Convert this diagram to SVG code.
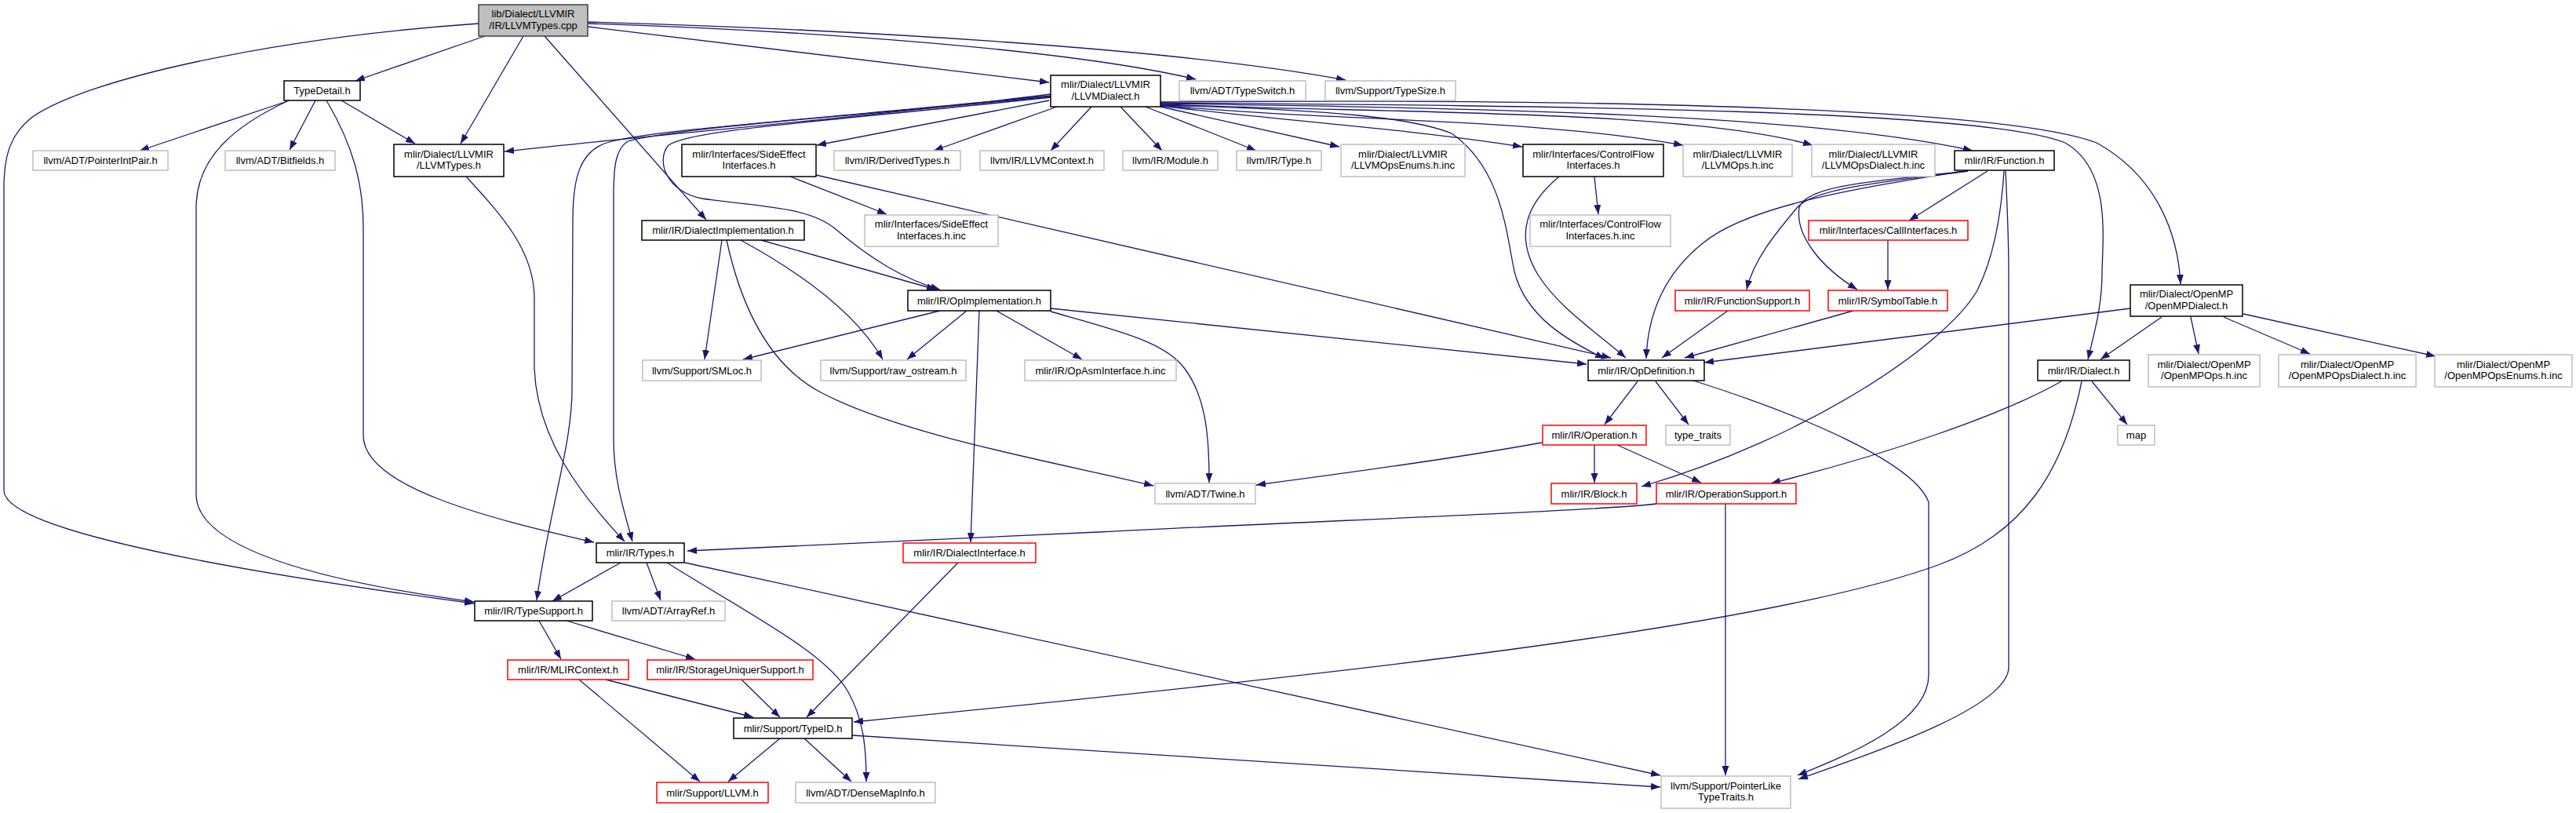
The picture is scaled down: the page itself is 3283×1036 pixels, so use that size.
<svg xmlns="http://www.w3.org/2000/svg" width="3283" height="1036" viewBox="0 0 3283 1036">
<style>
.e{fill:none;stroke:#191970;stroke-width:1.3;marker-end:url(#a)}
rect{stroke-width:1.5}
.b rect{fill:#fff;stroke:#000}
.g rect{fill:#fff;stroke:#bfbfbf}
.r rect{fill:#fff;stroke:#ff0000}
.root rect{fill:#bfbfbf;stroke:#404040}
text{font-family:"Liberation Sans",Arial,sans-serif;font-size:13px;text-anchor:middle;fill:#000}
</style>
<defs>
<marker id="a" viewBox="0 0 12 9" refX="12" refY="4.5" markerWidth="12" markerHeight="9" markerUnits="userSpaceOnUse" orient="auto"><path d="M0,0 L12,4.5 L0,9 z" fill="#191970"/></marker>
</defs>
<rect width="3283" height="1036" fill="#fff"/>
<g id="edges">
<path class="e" d="M618,46 L453,103"/>
<path class="e" d="M667,46 L587,183"/>
<path class="e" d="M694,46 L900,280"/>
<path class="e" d="M749,34 L1337,105"/>
<path class="e" d="M749,30 C1000,38 1350,60 1524,101"/>
<path class="e" d="M749,28 C1100,38 1500,62 1715,102"/>
<path class="e" d="M610,30 C350,48 110,100 40,150 C15,170 5,195 5,240 L5,625 C5,680 350,735 604,769"/>
<path class="e" d="M369,128 L178,192"/>
<path class="e" d="M402,128 L369,191"/>
<path class="e" d="M435,128 L529,183"/>
<path class="e" d="M366,129 C300,160 250,200 250,265 L250,630 C250,705 440,745 604,767"/>
<path class="e" d="M416,128 C450,185 463,235 463,290 L463,555 C463,620 620,660 757,691"/>
<path class="e" d="M594,225 C640,275 681,320 681,380 L681,470 C685,560 740,630 796,690"/>
<path class="e" d="M1339,120 C1100,150 850,170 643,193"/>
<path class="e" d="M1339,122 C1050,150 850,165 800,180 C785,190 782,210 782,250 L782,560 C782,610 795,650 806,690"/>
<path class="e" d="M1339,123 C1050,152 820,165 770,183 C740,195 730,225 730,280 L729,500 C728,570 700,650 684,765"/>
<path class="e" d="M1339,124 C1050,155 880,165 852,185 C835,205 850,245 895,253 C960,263 1030,262 1065,292 C1110,330 1150,355 1198,369"/>
<path class="e" d="M1337,128 L1041,185"/>
<path class="e" d="M1347,136 L1190,192"/>
<path class="e" d="M1391,136 L1339,192"/>
<path class="e" d="M1428,136 L1481,192"/>
<path class="e" d="M1460,136 L1601,192"/>
<path class="e" d="M1479,136 L1707,187"/>
<path class="e" d="M1479,135 C1650,155 1800,165 1940,187"/>
<path class="e" d="M1479,134 C1700,155 1950,150 2145,185"/>
<path class="e" d="M1479,133 C1800,145 2150,140 2310,185"/>
<path class="e" d="M1479,132 C1900,138 2300,145 2514,192"/>
<path class="e" d="M1479,131 C2000,135 2530,140 2632,182 C2690,215 2680,300 2679,346 C2679,390 2670,420 2661,458"/>
<path class="e" d="M1479,130 C2100,125 2560,140 2672,182 C2750,225 2776,300 2779,362"/>
<path class="e" d="M1479,134 C1700,140 1800,150 1850,170 C1915,215 1920,300 1930,346 C1945,405 2000,435 2045,457"/>
<path class="e" d="M1007,225 L1130,273"/>
<path class="e" d="M1040,223 L2053,456"/>
<path class="e" d="M2032,225 L2037,273"/>
<path class="e" d="M1987,225 C1945,260 1930,300 1960,350 C1985,390 2030,420 2072,456"/>
<path class="e" d="M2509,217 C2380,238 2230,260 2170,310 C2120,350 2100,400 2098,457"/>
<path class="e" d="M2508,218 C2400,232 2310,240 2290,265 C2265,295 2235,330 2226,369"/>
<path class="e" d="M2508,218 C2400,230 2300,235 2293,265 C2288,300 2320,340 2367,369"/>
<path class="e" d="M2533,218 L2433,281"/>
<path class="e" d="M2406,306 L2406,369"/>
<path class="e" d="M2554,218 C2550,280 2540,330 2520,370 C2480,440 2300,560 2092,620"/>
<path class="e" d="M2556,218 C2558,260 2560,300 2560,350 L2560,850 C2560,900 2400,955 2292,993"/>
<path class="e" d="M2653,486 C2630,600 2580,680 2470,720 C2250,800 1700,860 1088,920"/>
<path class="e" d="M2666,486 L2711,541"/>
<path class="e" d="M2627,486 C2550,530 2400,580 2257,616"/>
<path class="e" d="M2755,404 L2677,458"/>
<path class="e" d="M2792,404 L2802,451"/>
<path class="e" d="M2834,404 L2944,451"/>
<path class="e" d="M2859,400 L3104,454"/>
<path class="e" d="M2715,393 L2172,462"/>
<path class="e" d="M920,306 L898,458"/>
<path class="e" d="M926,306 C940,370 970,460 1046,500 C1150,555 1350,590 1470,619"/>
<path class="e" d="M944,306 Q1080,380 1125,458"/>
<path class="e" d="M970,306 L1193,369"/>
<path class="e" d="M1198,396 L947,458"/>
<path class="e" d="M1232,396 L1156,458"/>
<path class="e" d="M1270,396 L1379,458"/>
<path class="e" d="M1339,397 C1420,420 1485,435 1510,470 C1540,510 1541,570 1541,615"/>
<path class="e" d="M1248,396 L1237,691"/>
<path class="e" d="M1339,393 L2022,464"/>
<path class="e" d="M2202,396 L2118,456"/>
<path class="e" d="M2362,396 L2147,456"/>
<path class="e" d="M2087,486 L2045,541"/>
<path class="e" d="M2110,486 L2152,541"/>
<path class="e" d="M2158,485 C2300,530 2440,590 2458,640 L2458,860 C2458,920 2360,960 2291,988"/>
<path class="e" d="M1965,564 C1850,585 1700,605 1601,618"/>
<path class="e" d="M2032,567 L2032,615"/>
<path class="e" d="M2061,567 L2168,615"/>
<path class="e" d="M2111,642 C2050,650 1700,663 1400,678 L876,702"/>
<path class="e" d="M2199,642 L2199,988"/>
<path class="e" d="M1221,717 L1028,914"/>
<path class="e" d="M791,717 L704,766"/>
<path class="e" d="M824,717 L842,765"/>
<path class="e" d="M850,717 C950,780 1050,830 1080,880 C1100,915 1104,950 1104,996"/>
<path class="e" d="M873,717 L2116,988"/>
<path class="e" d="M687,791 L715,840"/>
<path class="e" d="M722,791 L886,840"/>
<path class="e" d="M738,866 L892,996"/>
<path class="e" d="M772,866 L960,914"/>
<path class="e" d="M945,866 L994,914"/>
<path class="e" d="M994,941 L928,996"/>
<path class="e" d="M1025,941 L1085,996"/>
<path class="e" d="M1086,937 L2116,1003"/>
</g>
<g id="n-root" class="root"><rect x="610" y="6" width="139" height="40"/><text x="679.5" y="22">lib/Dialect/LLVMIR</text><text x="679.5" y="36.5">/IR/LLVMTypes.cpp</text></g>
<g id="n-typedetail" class="b"><rect x="362" y="103" width="97" height="25"/><text x="410.5" y="120">TypeDetail.h</text></g>
<g id="n-pointerintpair" class="g"><rect x="42" y="192" width="172" height="25"/><text x="128" y="209">llvm/ADT/PointerIntPair.h</text></g>
<g id="n-bitfields" class="g"><rect x="287" y="192" width="140" height="25"/><text x="357" y="209">llvm/ADT/Bitfields.h</text></g>
<g id="n-llvmtypes" class="b"><rect x="502" y="184" width="140" height="41"/><text x="572" y="200.5">mlir/Dialect/LLVMIR</text><text x="572" y="215">/LLVMTypes.h</text></g>
<g id="n-llvmdialect" class="b"><rect x="1339" y="96" width="140" height="40"/><text x="1409" y="112">mlir/Dialect/LLVMIR</text><text x="1409" y="126.5">/LLVMDialect.h</text></g>
<g id="n-typeswitch" class="g"><rect x="1503" y="103" width="161" height="25"/><text x="1583.5" y="120">llvm/ADT/TypeSwitch.h</text></g>
<g id="n-typesize" class="g"><rect x="1689" y="103" width="166" height="25"/><text x="1772" y="120">llvm/Support/TypeSize.h</text></g>
<g id="n-sideeffect" class="b"><rect x="869" y="184" width="171" height="41"/><text x="954.5" y="200.5">mlir/Interfaces/SideEffect</text><text x="954.5" y="215">Interfaces.h</text></g>
<g id="n-derivedtypes" class="g"><rect x="1063" y="192" width="161" height="25"/><text x="1143.5" y="209">llvm/IR/DerivedTypes.h</text></g>
<g id="n-llvmcontext" class="g"><rect x="1249" y="192" width="158" height="25"/><text x="1328" y="209">llvm/IR/LLVMContext.h</text></g>
<g id="n-module" class="g"><rect x="1431" y="192" width="121" height="25"/><text x="1491.5" y="209">llvm/IR/Module.h</text></g>
<g id="n-type" class="g"><rect x="1576" y="192" width="108" height="25"/><text x="1630" y="209">llvm/IR/Type.h</text></g>
<g id="n-llvmopsenums" class="g"><rect x="1709" y="184" width="158" height="41"/><text x="1788" y="200.5">mlir/Dialect/LLVMIR</text><text x="1788" y="215">/LLVMOpsEnums.h.inc</text></g>
<g id="n-controlflow" class="b"><rect x="1941" y="184" width="179" height="41"/><text x="2030.5" y="200.5">mlir/Interfaces/ControlFlow</text><text x="2030.5" y="215">Interfaces.h</text></g>
<g id="n-llvmops" class="g"><rect x="2145" y="184" width="139" height="41"/><text x="2214.5" y="200.5">mlir/Dialect/LLVMIR</text><text x="2214.5" y="215">/LLVMOps.h.inc</text></g>
<g id="n-llvmopsdialect" class="g"><rect x="2309" y="184" width="157" height="41"/><text x="2387.5" y="200.5">mlir/Dialect/LLVMIR</text><text x="2387.5" y="215">/LLVMOpsDialect.h.inc</text></g>
<g id="n-function" class="b"><rect x="2491" y="192" width="127" height="25"/><text x="2554.5" y="209">mlir/IR/Function.h</text></g>
<g id="n-sideeffectinc" class="g"><rect x="1102" y="274" width="170" height="40"/><text x="1187" y="290">mlir/Interfaces/SideEffect</text><text x="1187" y="304.5">Interfaces.h.inc</text></g>
<g id="n-dialectimpl" class="b"><rect x="818" y="281" width="207" height="25"/><text x="921.5" y="298">mlir/IR/DialectImplementation.h</text></g>
<g id="n-controlflowinc" class="g"><rect x="1950" y="274" width="179" height="40"/><text x="2039.5" y="290">mlir/Interfaces/ControlFlow</text><text x="2039.5" y="304.5">Interfaces.h.inc</text></g>
<g id="n-callinterfaces" class="r"><rect x="2305" y="281" width="203" height="25"/><text x="2406.5" y="298">mlir/Interfaces/CallInterfaces.h</text></g>
<g id="n-opimpl" class="b"><rect x="1157" y="370" width="182" height="26"/><text x="1248" y="387.5">mlir/IR/OpImplementation.h</text></g>
<g id="n-functionsupport" class="r"><rect x="2135" y="370" width="171" height="26"/><text x="2220.5" y="387.5">mlir/IR/FunctionSupport.h</text></g>
<g id="n-symboltable" class="r"><rect x="2330" y="370" width="152" height="26"/><text x="2406" y="387.5">mlir/IR/SymbolTable.h</text></g>
<g id="n-openmpdialect" class="b"><rect x="2715" y="363" width="143" height="40"/><text x="2786.5" y="379">mlir/Dialect/OpenMP</text><text x="2786.5" y="393.5">/OpenMPDialect.h</text></g>
<g id="n-smloc" class="g"><rect x="819" y="459" width="151" height="26"/><text x="894.5" y="476.5">llvm/Support/SMLoc.h</text></g>
<g id="n-rawostream" class="g"><rect x="1046" y="459" width="185" height="26"/><text x="1138.5" y="476.5">llvm/Support/raw_ostream.h</text></g>
<g id="n-opasm" class="g"><rect x="1306" y="459" width="193" height="26"/><text x="1402.5" y="476.5">mlir/IR/OpAsmInterface.h.inc</text></g>
<g id="n-opdefinition" class="b"><rect x="2024" y="459" width="148" height="26"/><text x="2098" y="476.5">mlir/IR/OpDefinition.h</text></g>
<g id="n-dialect" class="b"><rect x="2597" y="459" width="117" height="26"/><text x="2655.5" y="476.5">mlir/IR/Dialect.h</text></g>
<g id="n-openmpops" class="g"><rect x="2738" y="452" width="142" height="41"/><text x="2809" y="468.5">mlir/Dialect/OpenMP</text><text x="2809" y="483">/OpenMPOps.h.inc</text></g>
<g id="n-openmpopsdialect" class="g"><rect x="2904" y="452" width="175" height="41"/><text x="2991.5" y="468.5">mlir/Dialect/OpenMP</text><text x="2991.5" y="483">/OpenMPOpsDialect.h.inc</text></g>
<g id="n-openmpopsenums" class="g"><rect x="3103" y="452" width="175" height="41"/><text x="3190.5" y="468.5">mlir/Dialect/OpenMP</text><text x="3190.5" y="483">/OpenMPOpsEnums.h.inc</text></g>
<g id="n-operation" class="r"><rect x="1966" y="542" width="132" height="25"/><text x="2032" y="559">mlir/IR/Operation.h</text></g>
<g id="n-typetraits" class="g"><rect x="2123" y="542" width="82" height="25"/><text x="2164" y="559">type_traits</text></g>
<g id="n-map" class="g"><rect x="2699" y="542" width="47" height="25"/><text x="2722.5" y="559">map</text></g>
<g id="n-twine" class="g"><rect x="1472" y="616" width="128" height="26"/><text x="1536" y="633.5">llvm/ADT/Twine.h</text></g>
<g id="n-block" class="r"><rect x="1977" y="616" width="109" height="26"/><text x="2031.5" y="633.5">mlir/IR/Block.h</text></g>
<g id="n-operationsupport" class="r"><rect x="2111" y="616" width="178" height="26"/><text x="2200" y="633.5">mlir/IR/OperationSupport.h</text></g>
<g id="n-types" class="b"><rect x="760" y="692" width="112" height="25"/><text x="816" y="709">mlir/IR/Types.h</text></g>
<g id="n-dialectinterface" class="r"><rect x="1151" y="692" width="169" height="25"/><text x="1235.5" y="709">mlir/IR/DialectInterface.h</text></g>
<g id="n-typesupport" class="b"><rect x="605" y="766" width="150" height="25"/><text x="680" y="783">mlir/IR/TypeSupport.h</text></g>
<g id="n-arrayref" class="g"><rect x="780" y="766" width="144" height="25"/><text x="852" y="783">llvm/ADT/ArrayRef.h</text></g>
<g id="n-mlircontext" class="r"><rect x="647" y="841" width="154" height="25"/><text x="724" y="858">mlir/IR/MLIRContext.h</text></g>
<g id="n-storageuniquer" class="r"><rect x="825" y="841" width="211" height="25"/><text x="930.5" y="858">mlir/IR/StorageUniquerSupport.h</text></g>
<g id="n-typeid" class="b"><rect x="935" y="915" width="151" height="26"/><text x="1010.5" y="932.5">mlir/Support/TypeID.h</text></g>
<g id="n-llvm" class="r"><rect x="837" y="997" width="142" height="26"/><text x="908" y="1014.5">mlir/Support/LLVM.h</text></g>
<g id="n-densemapinfo" class="g"><rect x="1014" y="997" width="178" height="26"/><text x="1103" y="1014.5">llvm/ADT/DenseMapInfo.h</text></g>
<g id="n-pointerlike" class="g"><rect x="2117" y="989" width="165" height="41"/><text x="2199.5" y="1005.5">llvm/Support/PointerLike</text><text x="2199.5" y="1020">TypeTraits.h</text></g>
</svg>
